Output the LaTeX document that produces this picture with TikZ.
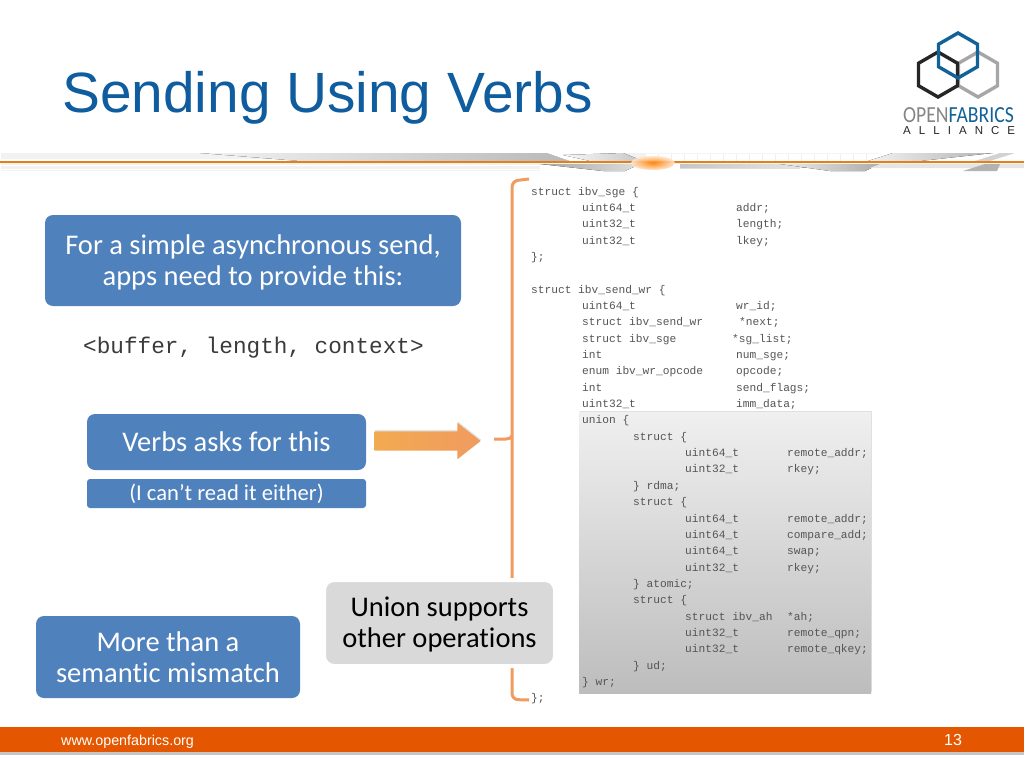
\documentclass[tikz,border=0pt]{standalone}
\usepackage{fontspec}
\setmainfont[Ligatures=NoCommon]{Carlito}
\newfontfamily\arialfont{Liberation Sans}
\newfontfamily\codefont{Liberation Mono}
\newfontfamily\logofont[LetterSpace=70]{Liberation Sans}
\usetikzlibrary{shapes.arrows,shapes.geometric,shadows}
\definecolor{titleblue}{RGB}{15,92,158}
\definecolor{boxblue}{RGB}{79,129,189}
\definecolor{logoblue}{RGB}{17,98,150}
\definecolor{logogray}{RGB}{166,166,166}
\definecolor{logoblack}{RGB}{38,38,38}
\definecolor{braceorange}{RGB}{240,155,95}
\definecolor{footorange}{RGB}{228,87,0}
\definecolor{codegray}{RGB}{85,85,85}
\tikzset{%
  bluebox/.style={rectangle, rounded corners=8, fill=boxblue, text=white, align=center,
    inner sep=0, font=\fontsize{28.5}{30.5}\selectfont},% blue callouts
  hexa/.style={regular polygon, regular polygon sides=6, shape border rotate=30,
    minimum size=45, inner sep=0, line width=3.4, fill=none},% logo hexagons
  codeline/.style={anchor=base west, inner sep=0, text=codegray,
    font=\codefont\fontsize{11.2}{12}\selectfont},% one piece of the listing
  bracepath/.style={draw=braceorange, line width=3, rounded corners=6}
}
\begin{document}
\begin{tikzpicture}[x=1pt,y=-1pt]
\useasboundingbox (0,0) rectangle (1024,768);
\fill[white] (0,0) rectangle (1024,768);

% title and logo
\node[anchor=base west, inner sep=0, text=titleblue, font=\arialfont\fontsize{56.8}{58}\selectfont] (title) at (62,112) {Sending Using Verbs};
\node[hexa, draw=logogray] (hexgray) at (978,74.5) {};
\node[hexa, draw=logoblack] (hexblack) at (938,74.5) {};
\node[hexa, draw=logoblue] (hexblue) at (958,55.5) {};
\node[anchor=base west, inner sep=0, font=\fontsize{23}{23}\selectfont, xscale=0.855] (logotext) at (903,122) {\textcolor{logogray!80!black}{OPEN}\textcolor{logoblue}{FABRICS}};
\node[anchor=base west, inner sep=0, text=logoblack, font=\logofont\fontsize{11.5}{11.5}\selectfont] (logosub) at (903,134.5) {ALLIANCE};

% swoosh band under the title
\fill[gray!10] (1,153) rectangle (1024,171);
\fill[white] (1,159) rectangle (300,161);
\fill[white] (1,165) rectangle (560,166);
\fill[white] (1,168.5) rectangle (540,169.5);
\fill[left color=gray!10, right color=gray!55] (200,153) -- (547,153) -- (570,161) -- (300,161) -- cycle;
\fill[white] (547,153) -- (623,153) -- (643,161) -- (570,161) -- cycle;
\fill[left color=gray!5, right color=gray!45] (563,155) -- (623,153) -- (643,161) -- (590,161) -- cycle;
\fill[white] (645,153) rectangle (880,161);
\foreach \gx in {0,...,18}
  \draw[gray!12, line width=0.8] ({645+13*\gx},153) -- ({645+13*\gx},161);
\fill[gray!8] (645,153) rectangle (880,154);
\fill[white] (880,153) -- (1024,153) -- (1024,161) -- (868,161) -- cycle;
\fill[left color=gray!10, right color=gray!60] (868,161) -- (893,153) -- (993,153) -- (920,161) -- cycle;
\fill[gray!35] (975,161) -- (1000,153) -- (1015,153) -- (990,161) -- cycle;
\fill[white] (540,164) rectangle (1024,171);
\fill[left color=gray!70, right color=gray!25] (540,164) -- (640,164) -- (625,171) -- (603,171) -- cycle;
\fill[left color=gray!45, right color=gray!15] (680,164) -- (830,164) -- (800,168) -- (680,168) -- cycle;
\fill[left color=gray!15, right color=gray!65] (780,164) -- (880,164) -- (865,171) -- (830,171) -- cycle;
\fill[gray!20] (880,164) -- (1024,164) -- (1024,168) -- (870,168) -- cycle;
\fill[gray!60] (963,171) -- (985,164) -- (1000,164) -- (997,171) -- cycle;
\draw[orange!60!brown, line width=1.6] (0,162) -- (1024,162);
\shade[inner color=orange, outer color=orange!20, opacity=0.9] (653,163) ellipse (22 and 7);

% listing
\node[rectangle, minimum width=292, minimum height=281, top color=gray!12, bottom color=gray!52,
  drop shadow={shadow xshift=0.5, shadow yshift=-1.5, opacity=0.25}] (unionbg) at (725,552.5) {};
\foreach \cy/\cx/\ctext in {
  0/531/struct ibv\_sge \{,
  1/582/uint64\_t, 1/736/addr;,
  2/582/uint32\_t, 2/736/length;,
  3/582/uint32\_t, 3/736/lkey;,
  4/531/\};,
  6/531/struct ibv\_send\_wr \{,
  7/582/uint64\_t, 7/736/wr\_id;,
  8/582/struct ibv\_send\_wr, 8/739/*next;,
  9/582/struct ibv\_sge, 9/732/*sg\_list;,
  10/582/int, 10/736/num\_sge;,
  11/582/enum ibv\_wr\_opcode, 11/736/opcode;,
  12/582/int, 12/736/send\_flags;,
  13/582/uint32\_t, 13/736/imm\_data;,
  14/582/union \{,
  15/633/struct \{,
  16/685/uint64\_t, 16/787/remote\_addr;,
  17/685/uint32\_t, 17/787/rkey;,
  18/633/\} rdma;,
  19/633/struct \{,
  20/685/uint64\_t, 20/787/remote\_addr;,
  21/685/uint64\_t, 21/787/compare\_add;,
  22/685/uint64\_t, 22/787/swap;,
  23/685/uint32\_t, 23/787/rkey;,
  24/633/\} atomic;,
  25/633/struct \{,
  26/685/struct ibv\_ah, 26/787/*ah;,
  27/685/uint32\_t, 27/787/remote\_qpn;,
  28/685/uint32\_t, 28/787/remote\_qkey;,
  29/633/\} ud;,
  30/582/\} wr;,
  31/531/\};}
  \node[codeline] (code\cy-\cx) at (\cx,{195+16.35*\cy}) {\ctext};

% brace round the listing
\coordinate (bracetop) at (529,179);
\coordinate (braceend) at (529,700);
\draw[bracepath] (bracetop) -- (512,181) -- (512,699.5) -- (braceend);
\draw[draw=braceorange, line width=3] (494,439) -- (506,439) .. controls (509,439) and (511,438) .. (512,436);

% left column
\node[bluebox, minimum width=416, minimum height=91] (askbox) at (253,260.5) {\rule{0pt}{24pt}For a simple asynchronous send,\\apps need to provide this:};
\node[anchor=base west, inner sep=0, text=codegray!70!black, font=\codefont\fontsize{22.7}{24}\selectfont] (tuple) at (83,353) {<buffer, length, context>};
\node[bluebox, minimum width=279, minimum height=56] (verbsbox) at (226.5,442) {Verbs asks for this};
\node[bluebox, rounded corners=3, minimum width=279, minimum height=29, font=\fontsize{22.6}{24}\selectfont] (readbox) at (226.5,493.5) {(I can’t read it either)};
\node[bluebox, minimum width=264, minimum height=82] (mismatchbox) at (168,657) {More than a\\semantic mismatch};

% block arrow and the grey callout
\node[single arrow, draw=none, inner xsep=0, inner ysep=9.5, minimum height=106, single arrow head extend=8.5,
  single arrow tip angle=76, left color=braceorange!85!yellow, right color=braceorange,
  drop shadow={shadow xshift=0.5, shadow yshift=-1.5, opacity=0.2}] (pointer) at (421.5,441) {};
\node[rectangle, rounded corners=10, draw=white, line width=4, fill=gray!30, align=center, inner sep=0, minimum width=231, minimum height=86,
  font=\fontsize{28.5}{30.5}\selectfont] (unionbox) at (439.5,623) {\rule{0pt}{22.5pt}Union supports\\other operations};

% footer
\fill[gray!45] (0,751) rectangle (1024,755);
\fill[footorange] (0,727) rectangle (1024,751.5);
\node[anchor=base west, inner sep=0, text=white, font=\arialfont\fontsize{14.3}{15}\selectfont] (website) at (61,745) {www.openfabrics.org};
\node[anchor=base, inner sep=0, text=white, font=\arialfont\fontsize{16}{17}\selectfont] (pagenum) at (953,745.5) {13};
\end{tikzpicture}
\end{document}
